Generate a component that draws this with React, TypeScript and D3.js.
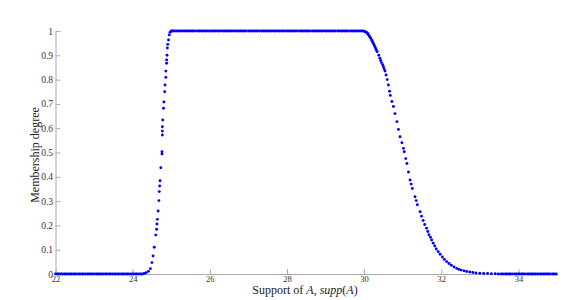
import React, { useRef, useEffect } from 'react';
import * as d3 from 'd3';

// x ticks and y ticks
const xTicks = [22, 24, 26, 28, 30, 32, 34];
const yTicks = [0, 0.1, 0.2, 0.3, 0.4, 0.5, 0.6, 0.7, 0.8, 0.9, 1];

// flat part at 0 on the left
const leftZeroX = [
  22.0, 22.05, 22.09, 22.14, 22.18, 22.23, 22.27, 22.32, 22.37, 22.41, 22.46, 22.5, 22.55,
  22.6, 22.64, 22.69, 22.73, 22.78, 22.83, 22.87, 22.92, 22.96, 23.01, 23.06, 23.1, 23.15,
  23.19, 23.24, 23.29, 23.33, 23.38, 23.42, 23.47, 23.52, 23.56, 23.61, 23.65, 23.7, 23.75,
  23.79, 23.84, 23.88, 23.93, 23.98, 24.02, 24.07, 24.11, 24.16, 24.21, 24.25,
];

// rising edge
const riseX = [
  24.3, 24.35, 24.41, 24.46, 24.5, 24.53, 24.56, 24.6, 24.62, 24.63, 24.64, 24.66, 24.68,
  24.69, 24.7, 24.71, 24.73, 24.76, 24.76, 24.77, 24.77, 24.77, 24.78, 24.8, 24.81, 24.83,
  24.84, 24.86, 24.86, 24.88, 24.88, 24.89, 24.9, 24.91, 24.93, 24.95, 24.97, 25.0,
];
const riseY = [
  0.002, 0.005, 0.011, 0.022, 0.047, 0.074, 0.11, 0.16, 0.184, 0.206, 0.225, 0.259, 0.302,
  0.339, 0.362, 0.384, 0.437, 0.494, 0.503, 0.572, 0.588, 0.606, 0.634, 0.682, 0.708, 0.75,
  0.778, 0.809, 0.835, 0.867, 0.881, 0.9, 0.93, 0.945, 0.963, 0.984, 0.995, 1.0,
];

// plateau at 1
const topX = [
  25.03, 25.07, 25.12, 25.16, 25.21, 25.25, 25.3, 25.36, 25.4, 25.45, 25.49, 25.54, 25.58,
  25.63, 25.69, 25.73, 25.78, 25.82, 25.87, 25.91, 25.96, 26.02, 26.06, 26.11, 26.15, 26.2,
  26.24, 26.29, 26.35, 26.39, 26.44, 26.48, 26.53, 26.57, 26.62, 26.68, 26.72, 26.77, 26.81,
  26.86, 26.9, 26.95, 27.01, 27.05, 27.1, 27.14, 27.19, 27.23, 27.28, 27.34, 27.38, 27.43,
  27.47, 27.52, 27.56, 27.61, 27.67, 27.71, 27.76, 27.8, 27.85, 27.89, 27.94, 28.0, 28.04,
  28.09, 28.13, 28.18, 28.22, 28.27, 28.33, 28.37, 28.42, 28.46, 28.51, 28.55, 28.6, 28.66,
  28.7, 28.75, 28.79, 28.84, 28.88, 28.93, 28.99, 29.03, 29.08, 29.12, 29.17, 29.21, 29.26,
  29.32, 29.36, 29.41, 29.45, 29.5, 29.54, 29.59, 29.65, 29.69, 29.74, 29.78, 29.83, 29.87,
  29.92, 29.96,
];

// falling edge
const fallX = [
  30.0, 30.03, 30.05, 30.07, 30.09, 30.11, 30.13, 30.15, 30.17, 30.2, 30.22, 30.24, 30.26,
  30.28, 30.3, 30.32, 30.34, 30.38, 30.41, 30.43, 30.45, 30.48, 30.5, 30.52, 30.54, 30.57,
  30.6, 30.63, 30.66, 30.68, 30.72, 30.76, 30.8, 30.85, 30.89, 30.93, 30.98, 31.02, 31.04,
  31.08, 31.11, 31.15, 31.19, 31.22, 31.25, 31.32, 31.35, 31.38, 31.45, 31.49, 31.53, 31.57,
  31.62, 31.65, 31.68, 31.72, 31.75, 31.79, 31.83, 31.87, 31.92, 31.97, 32.03, 32.08, 32.14,
  32.2, 32.26, 32.33, 32.4, 32.46, 32.52, 32.59, 32.66, 32.74, 32.82, 32.9, 33.0, 33.1, 33.2,
  33.3, 33.4, 33.48,
];
const fallY = [
  0.999, 0.997, 0.995, 0.993, 0.99, 0.985, 0.98, 0.975, 0.97, 0.962, 0.955, 0.949, 0.942,
  0.935, 0.928, 0.921, 0.915, 0.9, 0.888, 0.879, 0.87, 0.861, 0.853, 0.844, 0.835, 0.819,
  0.8, 0.778, 0.752, 0.735, 0.71, 0.689, 0.66, 0.627, 0.595, 0.565, 0.54, 0.517, 0.503,
  0.475, 0.455, 0.42, 0.387, 0.37, 0.352, 0.318, 0.302, 0.285, 0.256, 0.238, 0.22, 0.204,
  0.188, 0.175, 0.162, 0.151, 0.14, 0.127, 0.115, 0.103, 0.092, 0.081, 0.07, 0.06, 0.051,
  0.043, 0.036, 0.029, 0.023, 0.019, 0.016, 0.013, 0.01, 0.008, 0.006, 0.004, 0.003, 0.002,
  0.002, 0.001, 0.001, 0.0,
];

// flat part at 0 on the right
const rightZeroX = [
  33.55, 33.6, 33.66, 33.7, 33.75, 33.79, 33.84, 33.9, 33.94, 33.99, 34.03, 34.08, 34.12,
  34.17, 34.23, 34.27, 34.32, 34.36, 34.41, 34.45, 34.5, 34.56, 34.6, 34.65, 34.69, 34.74,
  34.78, 34.83, 34.89, 34.93, 34.98,
];

const FONT = '"Liberation Serif", "DejaVu Serif", serif';

const App: React.FC = () => {
  const svgRef = useRef<SVGSVGElement | null>(null);

  useEffect(() => {
    const svg = d3.select(svgRef.current);
    svg.selectAll('*').remove();

    const width = 574;
    const height = 300;
    const margin = { top: 31, right: 17, bottom: 26, left: 55.5 };

    const x = d3.scaleLinear()
      .domain([22, 35])
      .range([margin.left, width - margin.right]);
    const y = d3.scaleLinear()
      .domain([0, 1])
      .range([height - margin.bottom, margin.top]);

    const points: [number, number][] = [
      ...leftZeroX.map(v => [v, 0] as [number, number]),
      ...riseX.map((v, i) => [v, riseY[i]] as [number, number]),
      ...topX.map(v => [v, 1] as [number, number]),
      ...fallX.map((v, i) => [v, fallY[i]] as [number, number]),
      ...rightZeroX.map(v => [v, 0] as [number, number]),
    ];

    // X axis, ticks pointing inward
    const xAxis = svg.append('g')
      .attr('transform', `translate(0,${y(0)})`)
      .call(d3.axisBottom(x).tickValues(xTicks).tickSizeInner(-5).tickSizeOuter(0));
    xAxis.attr('font-family', FONT).attr('font-size', 8.5);
    xAxis.select('.domain').attr('stroke', '#aaa');
    xAxis.selectAll('.tick line').attr('stroke', '#aaa');
    xAxis.selectAll('.tick text')
      .attr('fill', '#333')
      .attr('y', 1.5)
      .attr('dy', '0.71em');

    // Y axis, ticks pointing inward
    const yAxis = svg.append('g')
      .attr('transform', `translate(${x(22)},0)`)
      .call(d3.axisLeft(y).tickValues(yTicks).tickFormat(d3.format('~g')).tickSizeInner(-5).tickSizeOuter(0));
    yAxis.attr('font-family', FONT).attr('font-size', 9.5);
    yAxis.select('.domain').attr('stroke', '#aaa');
    yAxis.selectAll('.tick line').attr('stroke', '#aaa');
    yAxis.selectAll('.tick text')
      .attr('fill', '#333')
      .attr('x', -2.5);

    // dots
    svg.append('g')
      .selectAll('circle')
      .data(points)
      .enter()
      .append('circle')
      .attr('cx', d => x(d[0]))
      .attr('cy', d => y(d[1]))
      .attr('r', 1.45)
      .attr('fill', '#0000ff');

    // axis labels
    const xl = svg.append('text')
      .attr('x', 305)
      .attr('y', 294)
      .attr('text-anchor', 'middle')
      .attr('font-family', FONT)
      .attr('font-size', 12)
      .attr('fill', '#222');
    xl.append('tspan').text('Support of ');
    xl.append('tspan').attr('font-style', 'italic').text('A');
    xl.append('tspan').text(', ');
    xl.append('tspan').attr('font-style', 'italic').text('supp');
    xl.append('tspan').text('(');
    xl.append('tspan').attr('font-style', 'italic').text('A');
    xl.append('tspan').text(')');

    svg.append('text')
      .attr('transform', `translate(39,155) rotate(-90)`)
      .attr('text-anchor', 'middle')
      .attr('font-family', FONT)
      .attr('font-size', 12)
      .attr('fill', '#222')
      .text('Membership degree');
  }, []);

  return (
    <svg
      ref={svgRef}
      width={574}
      height={300}
      style={{ position: 'absolute', left: 0, top: 0, background: '#fff' }}
    ></svg>
  );
};

export default App;
